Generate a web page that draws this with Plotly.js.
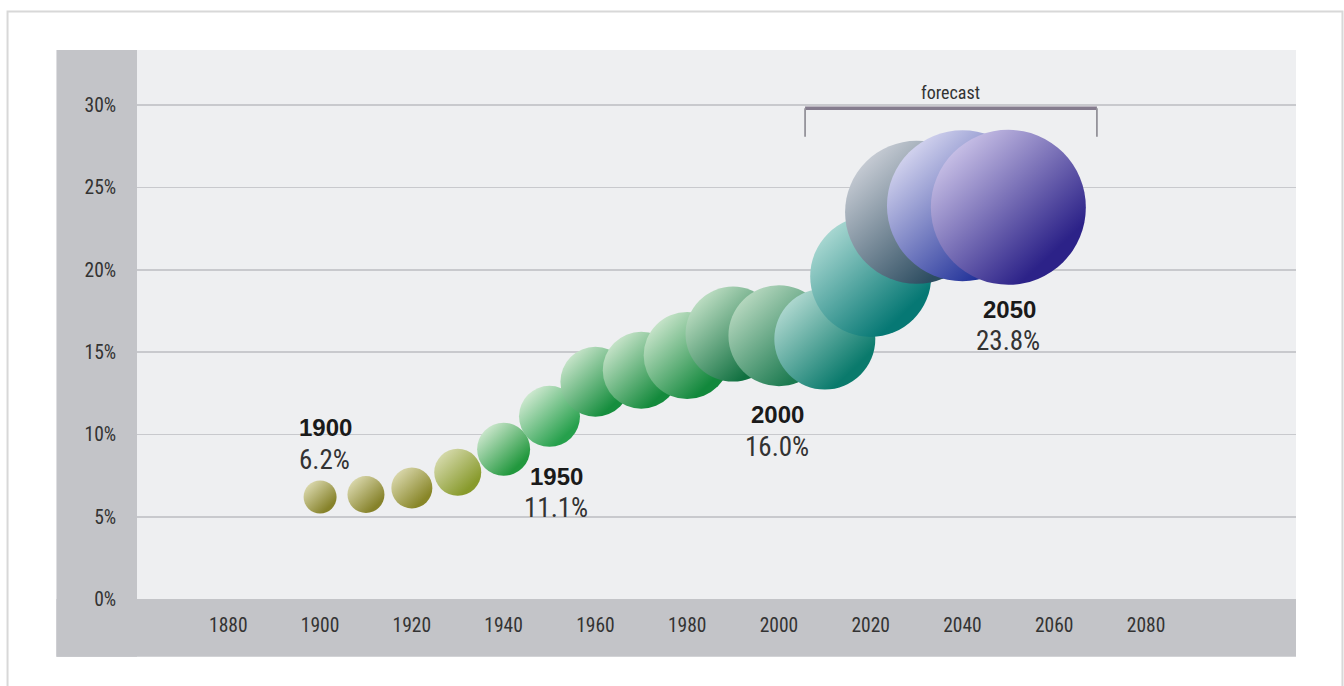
<!DOCTYPE html>
<html>
<head>
<meta charset="utf-8">
<script src="https://cdn.plot.ly/plotly-3.0.1.min.js"></script>
<style>
  html, body { margin: 0; padding: 0; background: #ffffff; }
  #chart { width: 1344px; height: 686px; }
</style>
</head>
<body>
<div id="chart"></div>
<script>
// ---- data ----
var years = [1900, 1910, 1920, 1930, 1940, 1950, 1960, 1970, 1980, 1990, 2000, 2010, 2020, 2030, 2040, 2050];
var shares = [6.2, 6.35, 6.75, 7.7, 9.1, 11.1, 13.2, 13.9, 14.8, 16.1, 16.0, 15.8, 19.6, 23.5, 23.9, 23.8];
var bubbleSizes = [33, 37, 41, 47, 53, 61, 70, 77, 87, 95, 101, 101, 121, 143, 151, 155];
var lightColors = ['#dcdab0', '#dcdab0', '#dcdab0', '#d8dcb0', '#d2ead2', '#d6ecd6', '#cfe8d0', '#cfe8d0', '#cfe8d0', '#c4e2c8', '#bddcc4', '#b6dcd4', '#b0dcd6', '#cdd1d9', '#dadaf2', '#cec6ea'];
var darkColors = ['#86822a', '#86822a', '#888628', '#889a2c', '#22983e', '#26a04c', '#168e3e', '#148a3c', '#12883c', '#107040', '#1c7a50', '#0a7a6c', '#067874', '#2c4c60', '#24349a', '#2c2288'];
var labelYears = [1900, 1950, 2000, 2050];
var xTicks = [1880, 1900, 1920, 1940, 1960, 1980, 2000, 2020, 2040, 2060, 2080];
var yTicks = [0, 5, 10, 15, 20, 25, 30];
var forecastStart = 2005.7, forecastEnd = 2069.3;

// ---- styling ----
var narrow = '"Roboto Condensed", "Liberation Sans Narrow", "DejaVu Sans Condensed", sans-serif';
var bold = '"Liberation Sans", Arial, sans-serif';
var labelShift = {1900: [5, 69], 1950: [7, -60], 2000: [-1, -79], 2050: [1, -102]};

var trace = {
  type: 'scatter',
  mode: 'markers',
  x: years,
  y: shares,
  hoverinfo: 'skip',
  marker: {
    size: bubbleSizes,
    color: lightColors,
    opacity: 1,
    line: {width: 0},
    gradient: {type: 'vertical', color: darkColors}
  }
};

var annotations = [];
labelYears.forEach(function (yr) {
  var i = years.indexOf(yr);
  var s = labelShift[yr];
  annotations.push({
    xref: 'x', yref: 'y', x: years[i], y: shares[i],
    text: '<b>' + yr + '</b>', showarrow: false,
    xanchor: 'center', yanchor: 'middle', xshift: s[0], yshift: s[1],
    font: {family: bold, size: 24, color: '#1a1a1a'}
  });
  annotations.push({
    xref: 'x', yref: 'y', x: years[i], y: shares[i],
    text: shares[i].toFixed(1) + '%', showarrow: false,
    xanchor: 'center', yanchor: 'middle', xshift: s[0] - 1, yshift: s[1] - 32,
    font: {family: narrow, size: 27, color: '#333333'}
  });
});
annotations.push({
  xref: 'x', yref: 'y', x: (forecastStart + forecastEnd) / 2, y: 29.82,
  text: 'forecast', showarrow: false, xanchor: 'center', yanchor: 'bottom', yshift: 3,
  font: {family: narrow, size: 18, color: '#333333'}
});

var stripColor = '#c3c4c8';
var shapes = [
  {type: 'rect', xref: 'paper', yref: 'paper', x0: -0.0695, x1: 0, y0: -0.1051, y1: 1,
   fillcolor: stripColor, line: {width: 0}, layer: 'below'},
  {type: 'rect', xref: 'paper', yref: 'paper', x0: -0.0695, x1: 1, y0: -0.1051, y1: 0,
   fillcolor: stripColor, line: {width: 0}, layer: 'below'},
  {type: 'rect', xref: 'paper', yref: 'paper', x0: -0.1117, x1: 1.0401, y0: -0.2, y1: 1.0701,
   fillcolor: 'rgba(0,0,0,0)', line: {width: 2, color: '#d8d8d8'}, layer: 'below'},
  {type: 'line', xref: 'x', yref: 'y', x0: forecastStart, x1: forecastEnd, y0: 29.82, y1: 29.82,
   line: {width: 3.5, color: '#857c8e'}},
  {type: 'line', xref: 'x', yref: 'y', x0: forecastStart, x1: forecastStart, y0: 29.82, y1: 28.09,
   line: {width: 1.8, color: '#94939a'}},
  {type: 'line', xref: 'x', yref: 'y', x0: forecastEnd, x1: forecastEnd, y0: 29.82, y1: 28.09,
   line: {width: 1.8, color: '#94939a'}}
];

var layout = {
  width: 1344, height: 686,
  margin: {l: 137, r: 48, t: 50, b: 87, pad: 0},
  paper_bgcolor: '#ffffff',
  plot_bgcolor: '#eeeff1',
  showlegend: false,
  xaxis: {
    range: [1860.10, 2112.69], tickvals: xTicks, ticktext: xTicks.map(String),
    showgrid: false, zeroline: false, showline: false,
    ticks: 'outside', ticklen: 9, tickcolor: 'rgba(0,0,0,0)',
    tickfont: {family: narrow, size: 19.5, color: '#333333'}, fixedrange: true
  },
  yaxis: {
    range: [0, 33.36], tickvals: yTicks, ticktext: yTicks.map(function (v) { return v + '%'; }),
    showgrid: true, gridcolor: '#c8c9cd', gridwidth: 1.6, zeroline: false, showline: false,
    ticks: 'outside', ticklen: 16, tickcolor: 'rgba(0,0,0,0)',
    tickfont: {family: narrow, size: 19.5, color: '#333333'}, fixedrange: true
  },
  shapes: shapes,
  annotations: annotations
};

function diagonalGradients() {
  var grads = document.querySelectorAll('#chart defs linearGradient');
  grads.forEach(function (g) {
    g.setAttribute('x1', '0.78'); g.setAttribute('y1', '0.8');
    g.setAttribute('x2', '0.12'); g.setAttribute('y2', '0.1');
  });
}

Plotly.newPlot('chart', [trace], layout, {displayModeBar: false, staticPlot: true}).then(function (gd) {
  diagonalGradients();
  gd.on && gd.on('plotly_afterplot', diagonalGradients);
});
</script>
</body>
</html>
